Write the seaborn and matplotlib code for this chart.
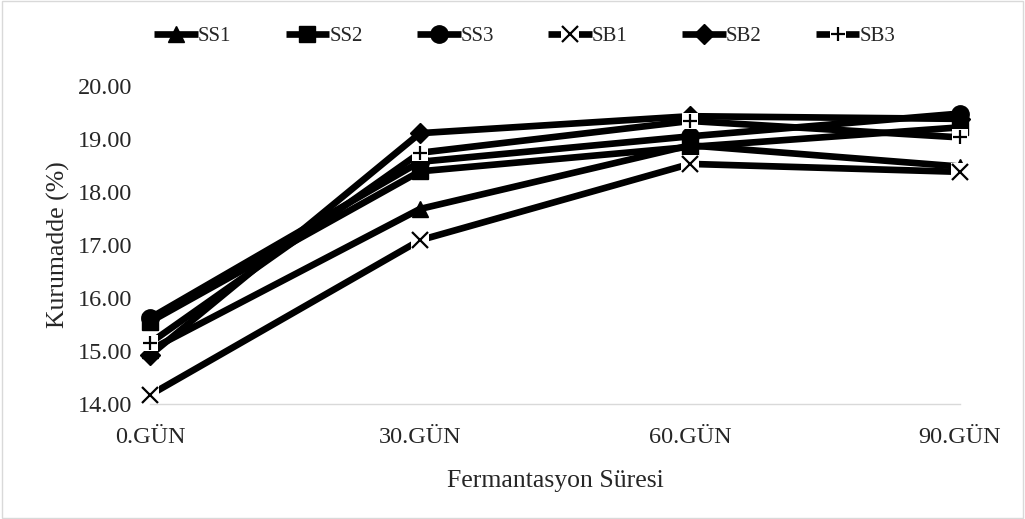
import matplotlib
matplotlib.use("Agg")
import matplotlib.pyplot as plt
from matplotlib.legend_handler import HandlerTuple
import seaborn as sns
import pandas as pd

days = ["0.GÜN", "30.GÜN", "60.GÜN", "90.GÜN"]
series = ["SS1", "SS2", "SS3", "SB1", "SB2", "SB3"]
ss1 = [15.02, 17.68, 18.88, 18.48]
ss2 = [15.55, 18.39, 18.85, 19.22]
ss3 = [15.62, 18.57, 19.05, 19.48]
sb1 = [14.17, 17.09, 18.53, 18.38]
sb2 = [14.92, 19.11, 19.43, 19.38]
sb3 = [15.15, 18.74, 19.34, 19.03]
yticks = [14, 15, 16, 17, 18, 19, 20]

values = dict(zip(series, [ss1, ss2, ss3, sb1, sb2, sb3]))
rows = []
for name in series:
    for i, (d, v) in enumerate(zip(days, values[name])):
        rows.append({"pos": i, "gun": d, "seri": name, "deger": v})
df = pd.DataFrame(rows)

sns.set_theme(style="white")
plt.rcParams["font.family"] = ["Liberation Serif", "DejaVu Serif"]

fig = plt.figure(figsize=(10.25, 5.19), dpi=100)
ax = fig.add_axes([0.1463, 0.2216, 0.7903, 0.6127])

LW = 4.8
marker_map = {"SS1": "^", "SS2": "s", "SS3": "o", "SB1": "x", "SB2": "D", "SB3": "+"}
size_map = {"SS1": 12, "SS2": 12, "SS3": 12.5, "SB1": 11, "SB2": 10, "SB3": 10}
# line-art markers sit on a white box that interrupts the line
boxed = {"SB1", "SB3"}

legend_handles = []
for name in series:
    sub = df[df["seri"] == name]
    if name in boxed:
        sns.lineplot(data=sub, x="pos", y="deger", color="black",
                     marker="s", markersize=size_map[name] + 2,
                     markerfacecolor="white", markeredgecolor="white",
                     markeredgewidth=0, linewidth=LW, ax=ax, legend=False)
        sns.lineplot(data=sub, x="pos", y="deger", color="black",
                     marker=marker_map[name], markersize=size_map[name],
                     markeredgewidth=1.6, markeredgecolor="black",
                     linewidth=0, ax=ax, legend=False)
        h = (plt.Line2D([], [], color="black", linewidth=LW, marker="s",
                        markersize=size_map[name] + 2, markerfacecolor="white",
                        markeredgecolor="white", markeredgewidth=0,
                        solid_capstyle="butt"),
             plt.Line2D([], [], color="black", linewidth=0,
                        marker=marker_map[name], markersize=size_map[name],
                        markeredgewidth=1.6))
    else:
        sns.lineplot(data=sub, x="pos", y="deger", color="black",
                     marker=marker_map[name], markersize=size_map[name],
                     markeredgewidth=1.0, markeredgecolor="black",
                     linewidth=LW, ax=ax, legend=False)
        h = plt.Line2D([], [], color="black", linewidth=LW,
                       marker=marker_map[name], markersize=size_map[name],
                       markeredgewidth=1.0, solid_capstyle="butt")
    legend_handles.append(h)

for line in ax.get_lines():
    line.set_solid_capstyle("butt")
    line.set_clip_on(False)

ax.set_xlim(0, 3)
ax.set_ylim(14, 20)
ax.set_xticks(range(len(days)))
ax.set_xticklabels(days, fontsize=17.5)
ax.set_yticks(yticks)
ax.set_yticklabels([f"{t:.2f}" for t in yticks], fontsize=17.5)
ax.tick_params(axis="x", length=0, pad=16.5)
ax.tick_params(axis="y", length=0, pad=12.5)
ax.set_xlabel("Fermantasyon Süresi", fontsize=18.5, labelpad=16)
ax.set_ylabel("Kurumadde (%)", fontsize=18.5, labelpad=6)

for side in ["top", "right", "left"]:
    ax.spines[side].set_visible(False)
ax.spines["bottom"].set_color("#d9d9d9")
ax.spines["bottom"].set_linewidth(1.0)

fig.legend(legend_handles, series, loc="center", bbox_to_anchor=(0.512, 0.93),
           ncol=6, frameon=False, fontsize=15, handlelength=2.1,
           handletextpad=0.0, columnspacing=2.6,
           handler_map={tuple: HandlerTuple(ndivide=1)})

border = plt.Rectangle((0.002, 0.002), 0.996, 0.996, transform=fig.transFigure,
                       fill=False, edgecolor="#d9d9d9", linewidth=1.0)
fig.patches.append(border)

fig.savefig("out.png", dpi=100)
